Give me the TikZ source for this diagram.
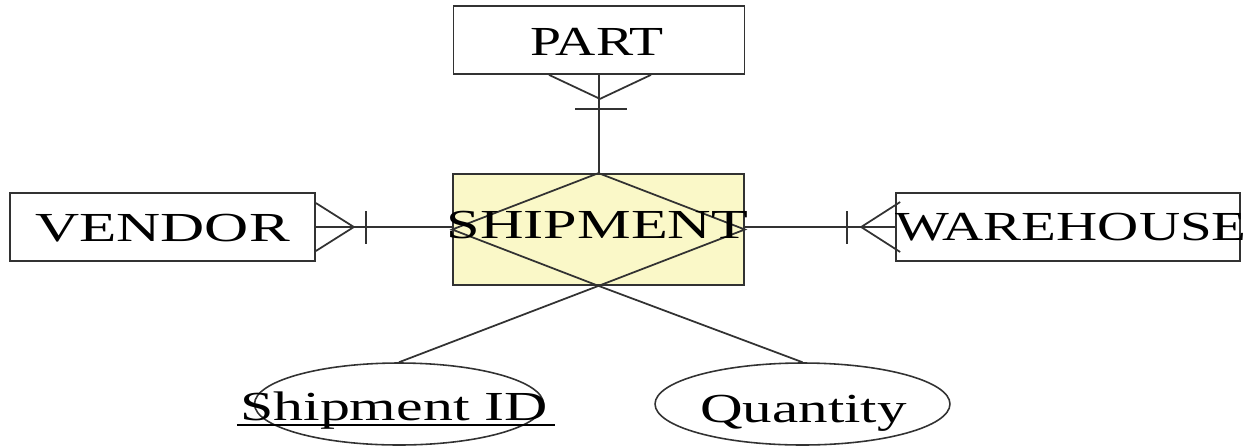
\documentclass[tikz,border=0pt]{standalone}
\usepackage{fontspec}
\setmainfont{Liberation Serif}
\usetikzlibrary{shapes.geometric,calc}
\definecolor{paleyellow}{RGB}{250,248,200}
\definecolor{edge}{RGB}{50,50,50}
\begin{document}
\begin{tikzpicture}[x=0.02cm,y=-0.02cm,
  entity/.style={draw=edge,line width=1pt,rectangle,inner sep=0pt,minimum height=1.36cm},
  attr/.style={draw=edge,line width=0.9pt,ellipse,inner sep=0pt,minimum height=1.64cm},
  lbl/.style={inner sep=0pt,anchor=base,font=\fontsize{23.5}{28}\selectfont},
  conn/.style={draw=edge,line width=1pt}]
\path[use as bounding box] (0,0) rectangle (1260,447);
% shapes
\node[entity,minimum width=5.82cm] (part) at (599,40) {};
\node[entity,minimum width=5.82cm,minimum height=2.22cm,fill=paleyellow] (ship) at (598.5,229.5) {};
\node[entity,minimum width=6.1cm] (vendor) at (162.5,227) {};
\node[entity,minimum width=6.88cm] (ware) at (1068,227) {};
\node[attr,minimum width=5.78cm] (sid) at (399,404) {};
\node[attr,minimum width=5.9cm] (qty) at (802.5,404) {};
% diamond inside shipment
\draw[conn] (ship.north) -- (ship.east) -- (ship.south) -- (ship.west) -- cycle;
% texts
\node[lbl] (partT) at (597,55) {\scalebox{1.35}[1]{PART}};
\node[lbl] (shipT) at (597.5,238) {\scalebox{1.46}[1]{SHIPMENT}};
\node[lbl] (vendT) at (162.5,241.5) {\scalebox{1.48}[1]{VENDOR}};
\node[lbl] (wareT) at (1071,240) {\scalebox{1.38}[1]{WAREHOUSE}};
\node[lbl] (sidT) at (394,420) {\scalebox{1.45}[1]{Shipment ID}};
\node[lbl] (qtyT) at (803.5,422) {\scalebox{1.43}[1]{Quantity}};
\draw[draw=black,line width=1.4pt] ($(sidT.base west)+(-3,5)$) -- ($(sidT.base east)+(7,5)$);
% PART -- SHIPMENT
\draw[conn] (part.south) -- (part.south |- ship.north);
\coordinate (pA) at ($(part.south)+(1,24)$);
\draw[conn] ($(part.south)+(-50,0)$) -- (pA) -- ($(part.south)+(52,0)$);
\draw[conn] ($(part.south)+(-24,34)$) -- ($(part.south)+(28,34)$);
% VENDOR -- SHIPMENT
\draw[conn] (vendor.east) -- (vendor.east -| ship.west);
\coordinate (vA) at ($(vendor.east)+(38,0)$);
\draw[conn] ($(vendor.east)+(0,-24)$) -- (vA) -- ($(vendor.east)+(0,24)$);
\draw[conn] ($(vendor.east)+(50,-16)$) -- ($(vendor.east)+(50,17)$);
% SHIPMENT -- WAREHOUSE
\draw[conn] (ship.east |- ware.west) -- (ware.west);
\coordinate (wA) at ($(ware.west)+(-34,0)$);
\draw[conn] ($(ware.west)+(5,-25)$) -- (wA) -- ($(ware.west)+(5,25)$);
\draw[conn] ($(ware.west)+(-48,-16)$) -- ($(ware.west)+(-48,17)$);
% attributes
\draw[conn] (ship.south) -- (sid.north);
\draw[conn] (ship.south) -- (qty.north);
\end{tikzpicture}
\end{document}
